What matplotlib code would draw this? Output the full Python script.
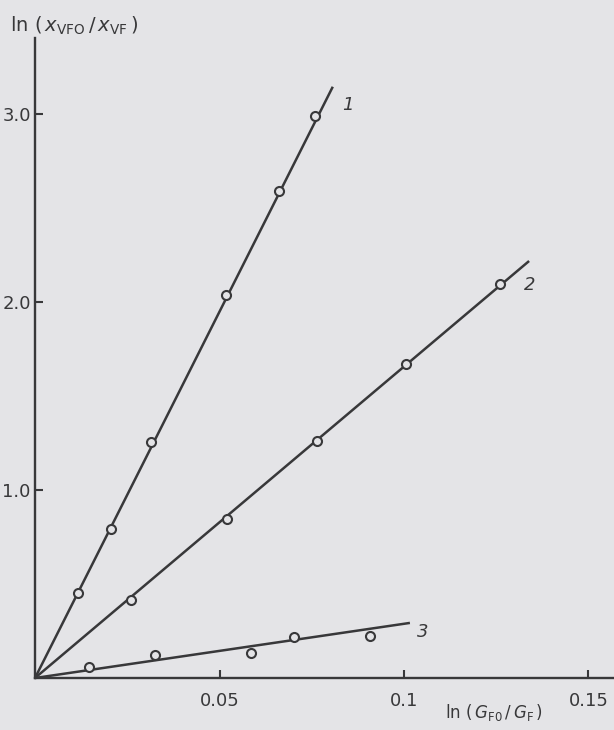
import matplotlib
matplotlib.use("Agg")
import matplotlib.pyplot as plt

# ---- data ----
x1 = [0.0117, 0.0205, 0.0314, 0.0518, 0.0661, 0.0759]
y1 = [0.454, 0.794, 1.254, 2.037, 2.592, 2.991]
fit1_x = [0.0, 0.0807]
fit1_y = [0.0, 3.145]

x2 = [0.0259, 0.0520, 0.0763, 0.1005, 0.1260]
y2 = [0.415, 0.847, 1.262, 1.670, 2.096]
fit2_x = [0.0, 0.1339]
fit2_y = [0.0, 2.218]

x3 = [0.0147, 0.0326, 0.0585, 0.0702, 0.0908]
y3 = [0.057, 0.121, 0.131, 0.220, 0.223]
fit3_x = [0.0, 0.1016]
fit3_y = [0.0, 0.293]

xticks = [0.05, 0.1, 0.15]
xticklabels = ["0.05", "0.1", "0.15"]
yticks = [1.0, 2.0, 3.0]
yticklabels = ["1.0", "2.0", "3.0"]
line_labels = ["1", "2", "3"]

ink = "#38383a"
bg = "#e4e4e7"
plt.rcParams["mathtext.fontset"] = "dejavusans"

W, H = 614, 730
fig = plt.figure(figsize=(W / 100, H / 100), dpi=100, facecolor=bg)
x0, y0 = 35, 678
ax = fig.add_axes([x0 / W, (H - y0) / H, (W - x0) / W, (y0 - 38) / H])
ax.set_facecolor(bg)
ax.set_xlim(0, (W - x0) / 3690)
ax.set_ylim(0, (y0 - 38) / 188)

for s in ["top", "right"]:
    ax.spines[s].set_visible(False)
for s in ["left", "bottom"]:
    ax.spines[s].set_color(ink)
    ax.spines[s].set_linewidth(1.7)

lw = 1.8
for fx, fy in [(fit1_x, fit1_y), (fit2_x, fit2_y), (fit3_x, fit3_y)]:
    ax.plot(fx, fy, color=ink, lw=lw, solid_capstyle="butt", clip_on=False)
for xs, ys in [(x1, y1), (x2, y2), (x3, y3)]:
    ax.plot(xs, ys, ls="none", marker="o", ms=6.5, mfc=bg, mec=ink, mew=1.5, clip_on=False)

ax.text(0.0833, 3.05, line_labels[0], fontsize=13, color=ink, style="italic", ha="left", va="center")
ax.text(0.1325, 2.09, line_labels[1], fontsize=13, color=ink, style="italic", ha="left", va="center")
ax.text(0.1035, 0.245, line_labels[2], fontsize=13, color=ink, style="italic", ha="left", va="center")

ax.set_xticks(xticks)
ax.set_xticklabels(xticklabels)
ax.set_yticks(yticks)
ax.set_yticklabels(yticklabels)
ax.tick_params(axis="both", direction="in", length=6, width=1.5, color=ink,
               labelcolor=ink, labelsize=13)
ax.tick_params(axis="y", pad=3)
ax.tick_params(axis="x", pad=10)

fig.text(10 / W, 1 - 32 / H,
         r"$\mathrm{ln}\ (\,x_{\mathrm{VFO}}\,/\,x_{\mathrm{VF}}\,)$",
         fontsize=14, color=ink, ha="left", va="baseline")
fig.text(494 / W, 1 - 718 / H,
         r"$\mathrm{ln}\ (\,G_{\mathrm{F0}}\,/\,G_{\mathrm{F}}\,)$",
         fontsize=12, color=ink, ha="center", va="baseline")

fig.savefig("out.png", dpi=100, facecolor=bg)
